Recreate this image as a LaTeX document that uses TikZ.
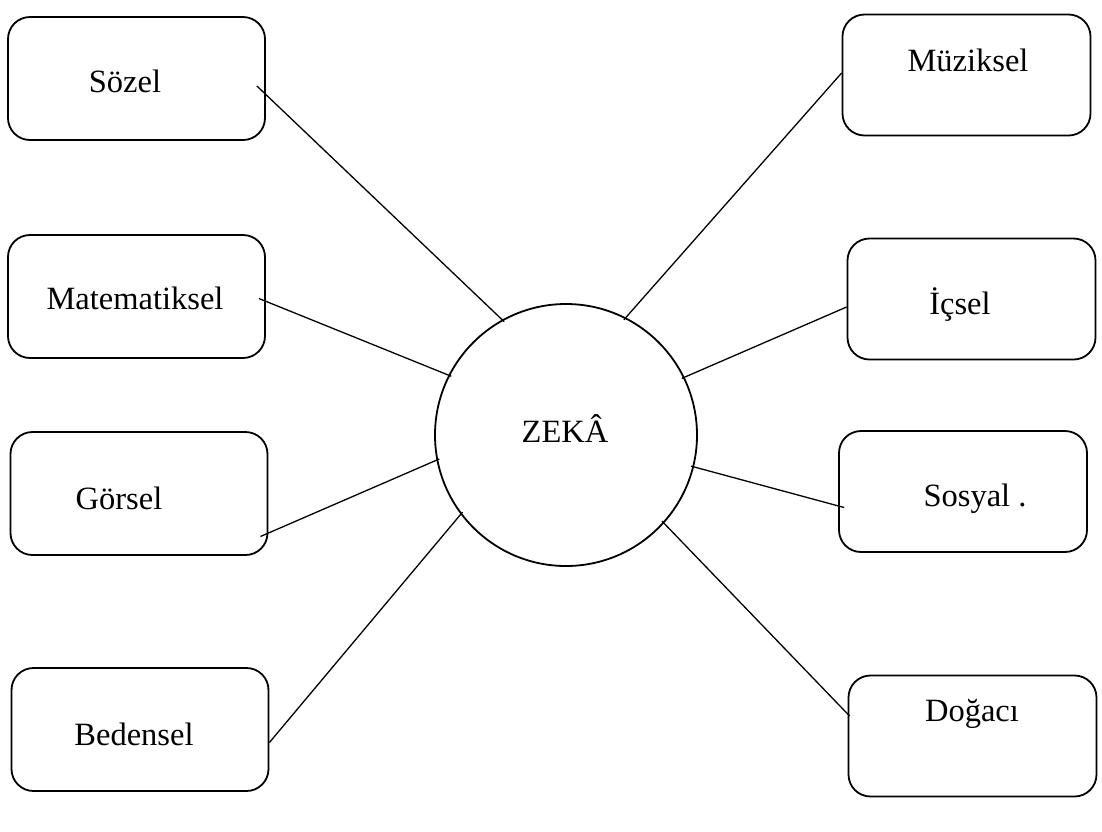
\documentclass[tikz,border=0pt]{standalone}
\usepackage{fontspec}
\setmainfont{Liberation Serif}

\begin{document}
\begin{tikzpicture}[x=1pt,y=-1pt,
    kutu/.style={draw, line width=1.8pt, rounded corners=22pt, minimum width=257pt, minimum height=123pt, inner sep=0pt},
    sagkutu/.style={kutu, minimum width=248pt, minimum height=121pt},
    yazi/.style={font=\fontsize{32.5}{38}\selectfont, inner sep=0pt, text height=0.7em, text depth=0.25em},
    baglanti/.style={line width=1.3pt, shorten <=-3pt}]

        \useasboundingbox (0,0) rectangle (1102,831);

        \node [draw, circle, line width=1.8pt, minimum size=262pt, inner sep=0pt] (zeka) at (566,435) {};
        \node [yazi] (zekayazi) at (565,440) {ZEKÂ};

        % sol taraf
        \node [kutu] (sozel) at (136.5,78.5) {};
        \node [kutu] (matematiksel) at (136.5,296.5) {};
        \node [kutu] (gorsel) at (139,493.5) {};
        \node [kutu] (bedensel) at (140,729.5) {};

        \node [yazi] (sozelyazi) at (125,90) {Sözel};
        \node [yazi] (matematikselyazi) at (135,307) {Matematiksel};
        \node [yazi] (gorselyazi) at (119,507) {Görsel};
        \node [yazi] (bedenselyazi) at (134,743) {Bedensel};

        % sag taraf
        \node [sagkutu] (muziksel) at (966.5,75) {};
        \node [sagkutu] (icsel) at (971.5,299) {};
        \node [sagkutu] (sosyal) at (963,491.5) {};
        \node [sagkutu] (dogaci) at (972.5,736) {};

        \node [yazi] (muzikselyazi) at (968,69) {Müziksel};
        \node [yazi] (icselyazi) at (960,312) {İçsel};
        \node [yazi] (sosyalyazi) at (975,504) {Sosyal .};
        \node [yazi] (dogaciyazi) at (972,719) {Doğacı};

        \draw [baglanti] (zeka.119) -- ([shift={(-9pt,-7.5pt)}]sozel.east);
        \draw [baglanti] (zeka.153) -- ([shift={(-7pt,-2pt)}]matematiksel.east);
        \draw [baglanti] (zeka.191) -- ([shift={(-8pt,-43pt)}]gorsel.east);
        \draw [baglanti] (zeka.217) -- ([shift={(0pt,-13pt)}]bedensel.east);

        \draw [baglanti] (zeka.63) -- ([shift={(0pt,2pt)}]muziksel.west);
        \draw [baglanti] (zeka.26) -- ([shift={(0pt,-8pt)}]icsel.west);
        \draw [baglanti] (zeka.-14) -- ([shift={(6pt,-16pt)}]sosyal.west);
        \draw [baglanti] (zeka.-42) -- ([shift={(2pt,20pt)}]dogaci.west);

      \end{tikzpicture}
\end{document}
